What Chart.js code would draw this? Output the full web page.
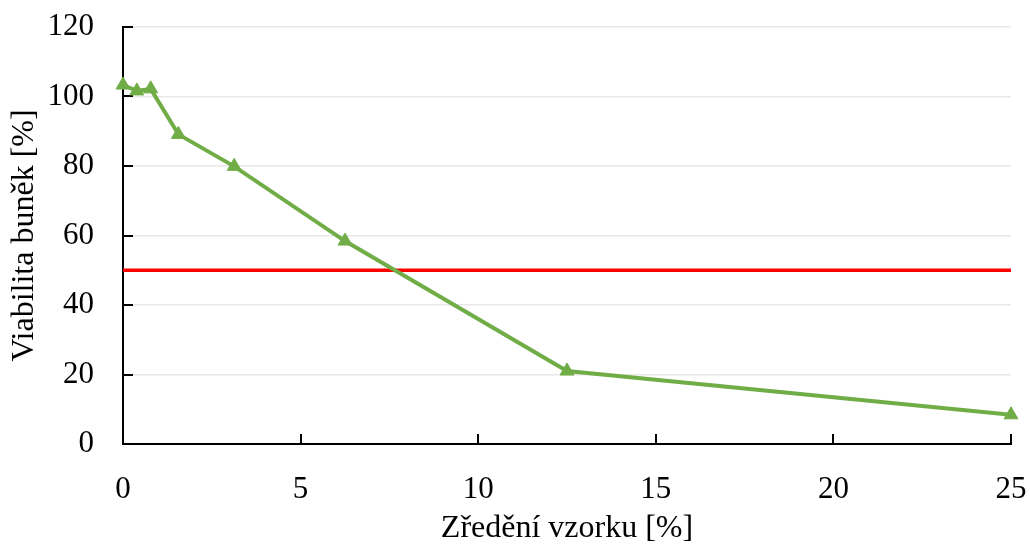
<!DOCTYPE html>
<html>
<head>
<meta charset="utf-8">
<script src="https://cdn.jsdelivr.net/npm/chart.js@4.4.0/dist/chart.umd.min.js"></script>
<style>
  html, body { margin: 0; padding: 0; background: #fff; }
  #wrap { width: 1030px; height: 545px; }
</style>
</head>
<body>
<div id="wrap"><canvas id="chart" width="1030" height="545"></canvas></div>
<script>
// hodnoty
const dilution = [0, 0.39, 0.78, 1.56, 3.13, 6.25, 12.5, 25];
const viability = [103.3, 101.6, 102.2, 89.1, 79.9, 58.4, 21.0, 8.4];
const thresholdX = [0, 25];
const thresholdY = [50, 50];
const xTicks = [0, 5, 10, 15, 20, 25];
const yTicks = [0, 20, 40, 60, 80, 100, 120];

const serif = "'Liberation Serif', 'Times New Roman', serif";

// kratke ticky smerem dovnitr grafu
const innerTicks = {
  id: 'innerTicks',
  beforeDatasetsDraw(chart) {
    const { ctx, chartArea, scales } = chart;
    ctx.save();
    ctx.strokeStyle = '#000';
    ctx.lineWidth = 2;
    ctx.beginPath();
    xTicks.forEach((v) => {
      const px = Math.round(scales.x.getPixelForValue(v));
      ctx.moveTo(px, chartArea.bottom);
      ctx.lineTo(px, chartArea.bottom - 10);
    });
    yTicks.forEach((v) => {
      const py = Math.round(scales.y.getPixelForValue(v));
      ctx.moveTo(chartArea.left, py);
      ctx.lineTo(chartArea.left + 10, py);
    });
    ctx.stroke();
    ctx.restore();
  }
};

new Chart(document.getElementById('chart'), {
  type: 'line',
  data: {
    datasets: [{
      label: 'Viabilita',
      data: dilution.map((x, i) => ({ x: x, y: viability[i] })),
      borderColor: '#70AD47',
      backgroundColor: '#70AD47',
      borderWidth: 4,
      pointStyle: 'triangle',
      pointRadius: 8,
      pointBorderWidth: 1,
      tension: 0,
      clip: false
    },
    {
      label: 'IC50',
      data: thresholdX.map((x, i) => ({ x: x, y: thresholdY[i] })),
      borderColor: '#FF0000',
      borderWidth: 3.5,
      pointRadius: 0,
      tension: 0
    }]
  },
  options: {
    responsive: false,
    animation: false,
    layout: { padding: { left: 9, right: 19, top: 27, bottom: 0 } },
    plugins: {
      legend: { display: false },
      tooltip: { enabled: false }
    },
    scales: {
      x: {
        type: 'linear',
        min: 0,
        max: 25,
        afterBuildTicks: (scale) => { scale.ticks = xTicks.map((v) => ({ value: v })); },
        afterFit: (scale) => {
          scale.height = 101;
          scale.paddingLeft = 0;
          scale.paddingRight = 0;
        },
        grid: { display: false, drawTicks: false },
        border: { display: true, color: '#000', width: 2 },
        ticks: { color: '#000', padding: 27, font: { family: serif, size: 31 } },
        title: {
          display: true,
          text: 'Zředění vzorku [%]',
          color: '#000',
          font: { family: serif, size: 32, lineHeight: 1 },
          padding: { top: 2, bottom: 0 }
        }
      },
      y: {
        min: 0,
        max: 120,
        afterBuildTicks: (scale) => { scale.ticks = yTicks.map((v) => ({ value: v })); },
        afterFit: (scale) => {
          scale.width = 114;
          scale.paddingTop = 0;
          scale.paddingBottom = 0;
        },
        grid: { color: '#e8e8e8', lineWidth: 1.5, drawTicks: false },
        border: { display: true, color: '#000', width: 2 },
        ticks: { color: '#000', padding: 29, font: { family: serif, size: 31 } },
        title: {
          display: true,
          text: 'Viabilita buněk [%]',
          color: '#000',
          font: { family: serif, size: 32, lineHeight: 1 },
          padding: { top: 0, bottom: 6 }
        }
      }
    }
  },
  plugins: [innerTicks]
});
</script>
</body>
</html>
